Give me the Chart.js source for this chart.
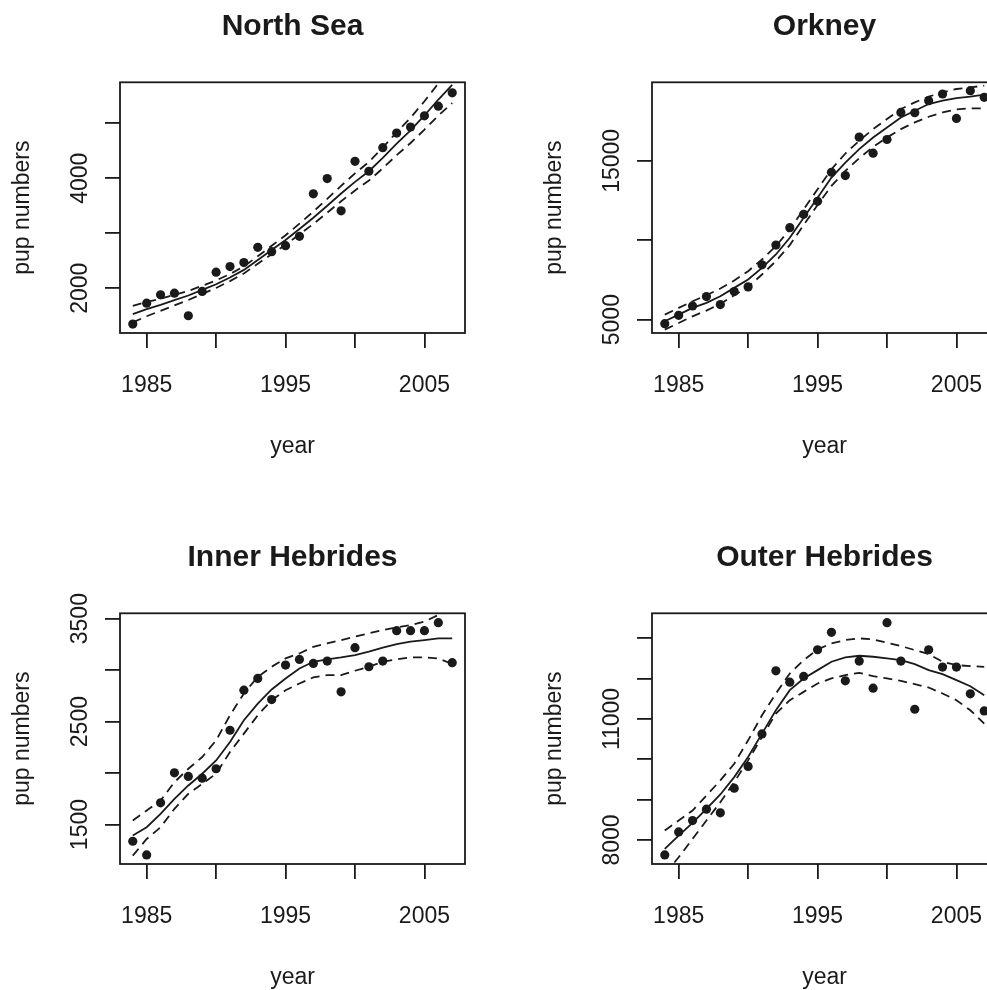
<!DOCTYPE html>
<html>
<head>
<meta charset="utf-8">
<title>Grey seal pup numbers</title>
<script src="https://cdn.jsdelivr.net/npm/chart.js@4.4.1/dist/chart.umd.min.js"></script>
<style>
  html, body { margin: 0; padding: 0; background: #fff; overflow: hidden; }
  #wrap { position: relative; width: 987px; height: 990px; overflow: hidden; }
  canvas { position: absolute; }
</style>
</head>
<body>
<div id="wrap">
  <canvas id="northSea" width="493" height="480" style="left:0;top:0"></canvas>
  <canvas id="orkney" width="493" height="480" style="left:532px;top:0"></canvas>
  <canvas id="innerHeb" width="493" height="480" style="left:0;top:531px"></canvas>
  <canvas id="outerHeb" width="493" height="480" style="left:532px;top:531px"></canvas>
</div>
<script>
const years = [1984, 1985, 1986, 1987, 1988, 1989, 1990, 1991, 1992, 1993, 1994, 1995,
               1996, 1997, 1998, 1999, 2000, 2001, 2002, 2003, 2004, 2005, 2006, 2007];
const xRange = [1983.08, 2007.92];
const xTicks = [1985, 1990, 1995, 2000, 2005];
const xTickLabels = ['1985', '', '1995', '', '2005'];

// North Sea
const nsCount = [1348, 1728, 1879, 1909, 1499, 1940, 2290, 2393, 2465, 2743, 2664, 2773,
                 2942, 3715, 3993, 3407, 4307, 4126, 4554, 4820, 4929, 5134, 5309, 5551];
const nsFit   = [1529, 1620, 1698, 1783, 1867, 1970, 2072, 2193, 2332, 2513, 2694, 2876,
                 3075, 3280, 3498, 3721, 3932, 4126, 4367, 4627, 4869, 5140, 5430, 5696];
const nsUpper = [1679, 1750, 1808, 1878, 1949, 2044, 2140, 2257, 2396, 2581, 2770, 2962,
                 3173, 3392, 3624, 3861, 4087, 4296, 4555, 4835, 5099, 5398, 5722, 6026];
const nsLower = [1379, 1490, 1588, 1688, 1785, 1896, 2004, 2129, 2268, 2445, 2618, 2790,
                 2977, 3168, 3372, 3581, 3777, 3956, 4179, 4419, 4639, 4882, 5138, 5366];
const nsRange = [1185, 5743];
const nsTicks = [2000, 3000, 4000, 5000];
const nsTickLabels = ['2000', '', '4000', ''];

// Orkney
const orCount = [4747, 5274, 5863, 6452, 5947, 6768, 7063, 8452, 9694, 10789, 11631, 12452,
                 14283, 14073, 16494, 15483, 16346, 18051, 18030, 18788, 19209, 17672, 19419, 18999];
const orFit   = [4895, 5316, 5737, 6053, 6474, 7000, 7526, 8263, 9105, 10157, 11420, 12683,
                 13946, 14894, 15736, 16472, 17104, 17735, 18156, 18577, 18788, 18956, 19040, 19167];
const orUpper = [5316, 5737, 6158, 6537, 6958, 7463, 8052, 8789, 9631, 10684, 11947, 13210,
                 14473, 15462, 16262, 16999, 17630, 18262, 18683, 19040, 19314, 19525, 19630, 19735];
const orLower = [4368, 4790, 5210, 5568, 5990, 6537, 7063, 7842, 8684, 9694, 10957, 12220,
                 13420, 14367, 15167, 15883, 16472, 16999, 17420, 17777, 18051, 18240, 18304, 18304];
const orRange = [4158, 19947];
const orTicks = [5000, 10000, 15000];
const orTickLabels = ['5000', '', '15000'];

// Inner Hebrides
const ihCount = [1338, 1205, 1711, 2003, 1968, 1951, 2042, 2416, 2805, 2919, 2714, 3049,
                 3104, 3065, 3088, 2789, 3218, 3033, 3088, 3383, 3383, 3383, 3461, 3072];
const ihFit   = [1393, 1474, 1604, 1750, 1880, 1994, 2123, 2302, 2513, 2675, 2812, 2919,
                 3016, 3081, 3104, 3123, 3146, 3179, 3218, 3253, 3276, 3292, 3308, 3308];
const ihUpper = [1539, 1636, 1734, 1912, 2042, 2156, 2318, 2562, 2773, 2935, 3033, 3114,
                 3162, 3227, 3260, 3292, 3325, 3357, 3390, 3416, 3438, 3471, 3536, 3585];
const ihLower = [1198, 1360, 1474, 1653, 1799, 1896, 1994, 2205, 2383, 2562, 2708, 2805,
                 2870, 2929, 2951, 2951, 2994, 3033, 3081, 3104, 3124, 3124, 3114, 3059];
const ihRange = [1117, 3552];
const ihTicks = [1500, 2000, 2500, 3000, 3500];
const ihTickLabels = ['1500', '', '2500', '', '3500'];

// Outer Hebrides
const ohCount = [7627, 8199, 8481, 8763, 8672, 9285, 9824, 10629, 12196, 11914, 12055, 12718,
                 13149, 11947, 12436, 11765, 13390, 12436, 11242, 12718, 12287, 12287, 11624, 11201];
const ohFit   = [7776, 8108, 8423, 8771, 9128, 9559, 10056, 10637, 11217, 11715, 12005, 12212,
                 12420, 12527, 12569, 12544, 12503, 12461, 12362, 12212, 12113, 11964, 11814, 11590];
const ohUpper = [8232, 8481, 8730, 9103, 9476, 9891, 10471, 11093, 11632, 12129, 12461, 12726,
                 12876, 12959, 13000, 12975, 12892, 12809, 12710, 12610, 12420, 12337, 12312, 12295];
const ohLower = [7154, 7569, 8025, 8481, 8937, 9434, 9973, 10554, 11134, 11466, 11673, 11881,
                 12005, 12088, 12146, 12063, 12005, 11947, 11864, 11781, 11632, 11466, 11217, 10886];
const ohRange = [7403, 13622];
const ohTicks = [8000, 9000, 10000, 11000, 12000, 13000];
const ohTickLabels = ['8000', '', '', '11000', '', ''];

const FONT = '"Liberation Sans", Arial, Helvetica, sans-serif';
const INK = '#1a1a1a';
Chart.defaults.font.family = FONT;
Chart.defaults.color = INK;

// R draws a full box round the plot region
const plotBox = {
  id: 'plotBox',
  afterDatasetsDraw(chart) {
    const { ctx, chartArea: a } = chart;
    ctx.save();
    ctx.strokeStyle = INK;
    ctx.lineWidth = 1.8;
    ctx.strokeRect(a.left, a.top, a.right - a.left, a.bottom - a.top);
    ctx.restore();
  }
};

function widest(labels) {
  const c = document.createElement('canvas').getContext('2d');
  c.font = '23px ' + FONT;
  return Math.max(...labels.map(l => c.measureText(l).width));
}

function pts(arr) {
  return years.map((x, i) => ({ x: x, y: arr[i] }));
}

function makePanel(id, title, count, fit, upper, lower, range, yTicks, yTickLabels) {
  const line = { borderColor: INK, borderWidth: 1.8, pointRadius: 0, tension: 0, fill: false, clip: 0 };
  new Chart(document.getElementById(id), {
    type: 'line',
    data: {
      datasets: [
        Object.assign({ data: pts(fit) }, line),
        Object.assign({ data: pts(upper), borderDash: [9, 6] }, line),
        Object.assign({ data: pts(lower), borderDash: [9, 6] }, line),
        {
          data: pts(count),
          showLine: false,
          pointRadius: 4.6,
          pointBackgroundColor: INK,
          pointBorderWidth: 0
        }
      ]
    },
    options: {
      responsive: false,
      animation: false,
      events: [],
      layout: { padding: { left: 0, right: 28, top: 0, bottom: 0 } },
      plugins: {
        legend: { display: false },
        tooltip: { enabled: false },
        title: {
          display: true,
          text: title,
          fullSize: false,
          color: INK,
          font: { size: 30, weight: 'bold' },
          padding: { top: 8.5, bottom: 37.8 }
        }
      },
      scales: {
        x: {
          type: 'linear',
          min: xRange[0],
          max: xRange[1],
          afterBuildTicks: s => { s.ticks = xTicks.map(v => ({ value: v })); },
          afterFit: s => { s.height = 147; },
          grid: { drawOnChartArea: false, drawTicks: true, tickLength: 15, color: INK, lineWidth: 1.8 },
          border: { display: false },
          ticks: {
            autoSkip: false, maxRotation: 0, minRotation: 0, padding: 24,
            color: INK, font: { size: 23 },
            callback: (v, i) => xTickLabels[i]
          },
          title: { display: true, text: 'year', color: INK, font: { size: 23 }, padding: { top: 0, bottom: 19.2 } }
        },
        y: {
          min: range[0],
          max: range[1],
          afterBuildTicks: s => { s.ticks = yTicks.map(v => ({ value: v })); },
          afterFit: s => { s.width = 120; },
          grid: { drawOnChartArea: false, drawTicks: true, tickLength: 15, color: INK, lineWidth: 1.8 },
          border: { display: false },
          ticks: {
            autoSkip: false, minRotation: 90, maxRotation: 90,
            crossAlign: 'center',
            padding: 24 - widest(yTickLabels) / 2,
            color: INK, font: { size: 23 },
            callback: (v, i) => yTickLabels[i]
          },
          title: { display: true, text: 'pup numbers', color: INK, font: { size: 23 }, padding: { top: 9.2, bottom: 0 } }
        }
      }
    },
    plugins: [plotBox]
  });
}

makePanel('northSea', 'North Sea', nsCount, nsFit, nsUpper, nsLower, nsRange, nsTicks, nsTickLabels);
makePanel('orkney', 'Orkney', orCount, orFit, orUpper, orLower, orRange, orTicks, orTickLabels);
makePanel('innerHeb', 'Inner Hebrides', ihCount, ihFit, ihUpper, ihLower, ihRange, ihTicks, ihTickLabels);
makePanel('outerHeb', 'Outer Hebrides', ohCount, ohFit, ohUpper, ohLower, ohRange, ohTicks, ohTickLabels);
</script>
</body>
</html>
